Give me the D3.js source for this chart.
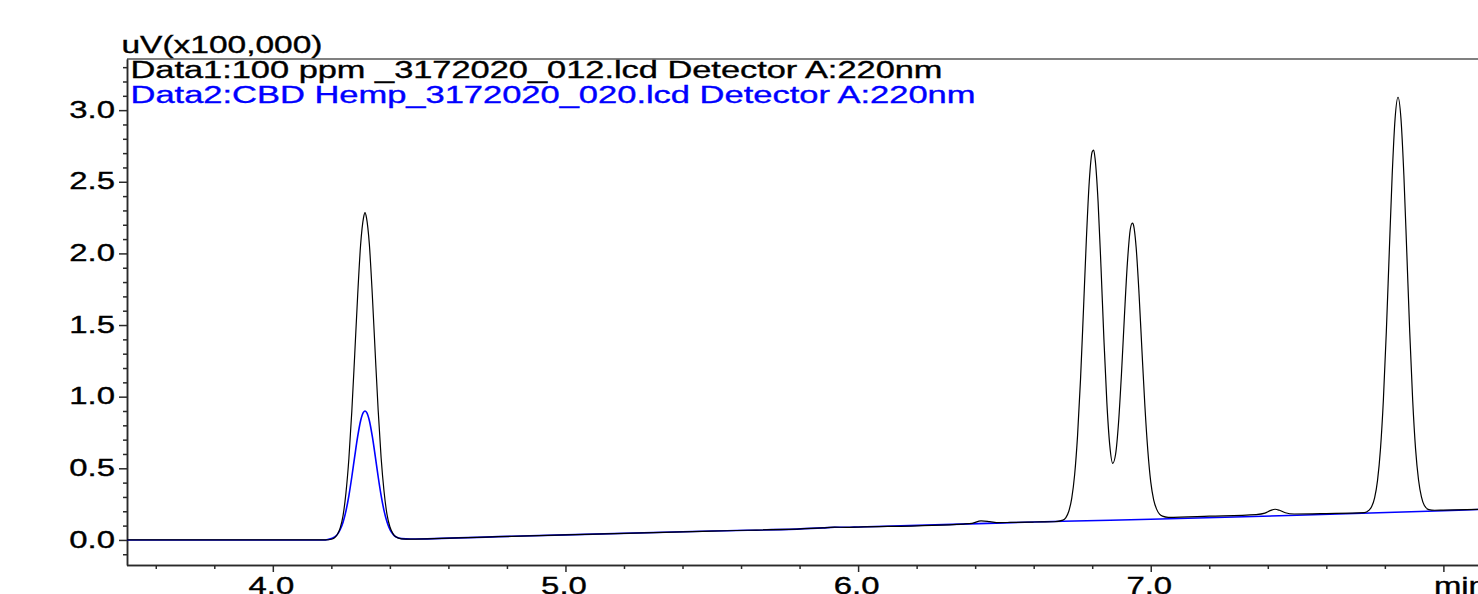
<!DOCTYPE html>
<html>
<head>
<meta charset="utf-8">
<script src="https://cdn.jsdelivr.net/npm/d3@7"></script>
<style>
  body { margin: 0; background: #fff; overflow: hidden; }
  svg { display: block; font-family: "Liberation Sans", Arial, sans-serif; }
</style>
</head>
<body>
<figure id="chart" style="margin:0"></figure>
<script>
// Data1 trace (black) - retention time in min, signal in uV x100,000
const data1Time = [3.50, 4.00, 4.18, 4.20, 4.21, 4.22, 4.23, 4.24, 4.25, 4.26, 4.27, 4.28, 4.29, 4.30, 4.31, 4.315, 4.32, 4.33, 4.34, 4.35,
    4.36, 4.37, 4.38, 4.39, 4.40, 4.41, 4.42, 4.44, 4.47, 4.77, 5.00, 5.50, 5.88, 5.92, 5.96, 6.00, 6.36, 6.39, 6.42, 6.45,
    6.48, 6.52, 6.60, 6.67, 6.70, 6.71, 6.72, 6.73, 6.74, 6.75, 6.76, 6.77, 6.78, 6.79, 6.80, 6.805, 6.81, 6.82, 6.83, 6.84,
    6.85, 6.86, 6.87, 6.88, 6.89, 6.90, 6.91, 6.92, 6.93, 6.937, 6.94, 6.95, 6.96, 6.97, 6.98, 6.99, 7.00, 7.01, 7.02, 7.03,
    7.04, 7.06, 7.20, 7.36, 7.39, 7.41, 7.425, 7.44, 7.46, 7.49, 7.60, 7.73, 7.745, 7.755, 7.765, 7.775, 7.785, 7.795, 7.805, 7.815,
    7.825, 7.835, 7.845, 7.855, 7.865, 7.875, 7.885, 7.895, 7.905, 7.915, 7.925, 7.935, 7.95, 7.97, 8.00, 8.12];
const data1Signal = [0.000, 0.000, 0.000, 0.005, 0.014, 0.036, 0.082, 0.170, 0.330, 0.570, 0.900, 1.300, 1.710, 2.060, 2.250, 2.285, 2.250, 2.060, 1.710, 1.300,
    0.905, 0.575, 0.340, 0.180, 0.092, 0.046, 0.022, 0.008, 0.006, 0.023, 0.035, 0.062, 0.084, 0.089, 0.088, 0.090, 0.111, 0.116, 0.133, 0.128,
    0.121, 0.122, 0.125, 0.127, 0.138, 0.156, 0.200, 0.290, 0.457, 0.730, 1.119, 1.600, 2.097, 2.504, 2.710, 2.721, 2.658, 2.363, 1.905, 1.400,
    0.960, 0.660, 0.535, 0.600, 0.820, 1.160, 1.560, 1.927, 2.167, 2.212, 2.205, 2.045, 1.719, 1.320, 0.935, 0.624, 0.405, 0.280, 0.215, 0.180,
    0.166, 0.158, 0.166, 0.177, 0.187, 0.206, 0.214, 0.207, 0.190, 0.181, 0.184, 0.190, 0.206, 0.233, 0.294, 0.416, 0.634, 0.979, 1.451, 2.005,
    2.545, 2.942, 3.090, 2.942, 2.545, 2.005, 1.451, 0.979, 0.634, 0.420, 0.300, 0.240, 0.212, 0.207, 0.208, 0.213];

// Data2 trace (blue)
const data2Time = [3.50, 4.00, 4.18, 4.19, 4.21, 4.22, 4.23, 4.24, 4.25, 4.26, 4.27, 4.28, 4.29, 4.30, 4.31, 4.315, 4.32, 4.33, 4.34, 4.35,
    4.36, 4.37, 4.38, 4.39, 4.40, 4.41, 4.42, 4.44, 4.47, 4.77, 5.00, 5.50, 5.88, 5.92, 5.96, 6.00, 6.50, 6.70, 7.00, 7.50,
    8.00, 8.12];
const data2Signal = [0.000, 0.000, 0.000, 0.004, 0.019, 0.037, 0.071, 0.124, 0.203, 0.310, 0.441, 0.585, 0.722, 0.832, 0.892, 0.900, 0.892, 0.832, 0.722, 0.585,
    0.441, 0.311, 0.205, 0.127, 0.074, 0.041, 0.022, 0.009, 0.006, 0.023, 0.035, 0.062, 0.084, 0.089, 0.088, 0.090, 0.119, 0.130, 0.144, 0.172,
    0.204, 0.212];

// axis ticks and texts
const xMajorTicks = [4, 5, 6, 7, 8];
const xTickLabels = ["4.0", "5.0", "6.0", "7.0", "min"];
const yMajorTicks = [0.0, 0.5, 1.0, 1.5, 2.0, 2.5, 3.0];
const yAxisTitle = "uV(x100,000)";
const legendLabels = [
    "Data1:100 ppm _3172020_012.lcd Detector A:220nm",
    "Data2:CBD Hemp_3172020_020.lcd Detector A:220nm"
];

let dimensions = {
    width: 1478,
    height: 594,
    margin: { top: 59, right: 0, bottom: 29, left: 127 }
};
dimensions.boundedWidth = dimensions.width - dimensions.margin.left - dimensions.margin.right;
dimensions.boundedHeight = dimensions.height - dimensions.margin.top - dimensions.margin.bottom;

const stretch = 1.37; // the original text is drawn wide

var svg = d3.select("figure#chart")
    .append("svg")
    .attr("width", dimensions.width)
    .attr("height", dimensions.height);

var xScale = d3.scaleLinear()
    .domain([3.5, 8.12])
    .range([126.5, 1478.5]);

var yScale = d3.scaleLinear()
    .domain([-0.175, 3.357])
    .range([dimensions.height - dimensions.margin.bottom, dimensions.margin.top]);

// clip so the traces stay inside the frame
svg.append("clipPath").attr("id", "plot-clip")
    .append("rect")
    .attr("x", dimensions.margin.left)
    .attr("y", dimensions.margin.top)
    .attr("width", dimensions.boundedWidth)
    .attr("height", dimensions.boundedHeight);

// top frame line
svg.append("line")
    .attr("x1", dimensions.margin.left)
    .attr("x2", dimensions.width)
    .attr("y1", dimensions.margin.top)
    .attr("y2", dimensions.margin.top)
    .attr("stroke", "#808080")
    .attr("stroke-width", 2);

// x axis: minor ticks every 0.2 min, majors every 1 min
var xMinor = svg.append("g")
    .attr("transform", `translate(0, ${dimensions.height - dimensions.margin.bottom})`)
    .call(d3.axisBottom(xScale)
        .tickValues(d3.range(3.6, 8.11, 0.2).filter(v => Math.abs(v - Math.round(v)) > 0.01))
        .tickSize(4).tickSizeOuter(0).tickFormat(""));

var xAxis = svg.append("g")
    .attr("transform", `translate(0, ${dimensions.height - dimensions.margin.bottom})`)
    .call(d3.axisBottom(xScale)
        .tickValues(xMajorTicks)
        .tickSize(7).tickSizeOuter(0)
        .tickFormat((d, i) => xTickLabels[i]));

xAxis.selectAll("text")
    .attr("y", 0).attr("dy", 0).attr("x", 0)
    .attr("text-anchor", (d, i) => xTickLabels[i] === "min" ? "start" : "middle")
    .attr("transform", (d, i) => xTickLabels[i] === "min"
        ? `translate(-10, 29) scale(${stretch}, 1)`
        : `translate(-2, 29) scale(${stretch}, 1)`);

// y axis: minor ticks every 0.1, majors every 0.5
var yMinor = svg.append("g")
    .attr("transform", `translate(${dimensions.margin.left}, 0)`)
    .call(d3.axisLeft(yScale)
        .tickValues(d3.range(-1, 34).map(v => v / 10).filter(v => Math.round(v * 10) % 5 !== 0))
        .tickSize(4).tickSizeOuter(0).tickFormat(""));

var yAxis = svg.append("g")
    .attr("transform", `translate(${dimensions.margin.left}, 0)`)
    .call(d3.axisLeft(yScale)
        .tickValues(yMajorTicks)
        .tickSize(8).tickSizeOuter(0)
        .tickFormat(d3.format(".1f")));

yAxis.selectAll("text")
    .attr("x", 0).attr("dy", "0.3em")
    .attr("transform", `translate(-12, 0) scale(${stretch}, 1)`);

svg.selectAll(".tick text")
    .attr("font-size", 24)
    .attr("font-family", "Liberation Sans, Arial, sans-serif")
    .attr("fill", "#000")
    .attr("stroke", "#000")
    .attr("stroke-width", 0.35);

svg.selectAll(".domain, .tick line")
    .attr("stroke", "#2a2a2a")
    .attr("stroke-width", 1.5);

// traces
var line = d3.line()
    .x(d => xScale(d[0]))
    .y(d => yScale(d[1]))
    .curve(d3.curveMonotoneX);

var traces = svg.append("g").attr("clip-path", "url(#plot-clip)");

traces.append("path")
    .datum(d3.zip(data2Time, data2Signal))
    .attr("d", line)
    .attr("fill", "none")
    .attr("stroke", "#0000ff")
    .attr("stroke-width", 1.6);

traces.append("path")
    .datum(d3.zip(data1Time, data1Signal))
    .attr("d", line)
    .attr("fill", "none")
    .attr("stroke", "#000000")
    .attr("stroke-width", 1.2);

// unit title above the axis
svg.append("text")
    .attr("x", 121.5)
    .attr("y", 53)
    .attr("font-size", 23)
    .attr("textLength", 201)
    .attr("lengthAdjust", "spacingAndGlyphs")
    .attr("stroke", "#000")
    .attr("stroke-width", 0.35)
    .text(yAxisTitle);

// legend inside the frame
var legendWidths = [812, 845];
svg.selectAll(".legend")
    .data(legendLabels)
    .enter()
    .append("text")
    .attr("class", "legend")
    .attr("x", 130.5)
    .attr("y", (d, i) => 78 + i * 25)
    .attr("font-size", 23)
    .attr("textLength", (d, i) => legendWidths[i])
    .attr("lengthAdjust", "spacingAndGlyphs")
    .attr("fill", (d, i) => i === 0 ? "#000000" : "#0000ff")
    .attr("stroke", (d, i) => i === 0 ? "#000000" : "#0000ff")
    .attr("stroke-width", 0.35)
    .text(d => d);
</script>
</body>
</html>
